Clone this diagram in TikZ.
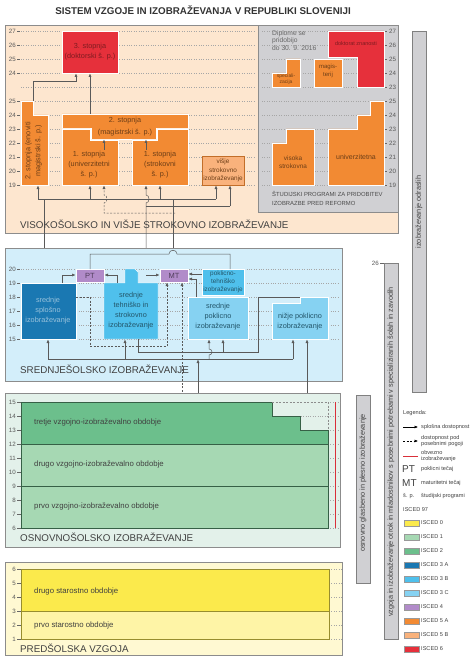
\documentclass[tikz,border=0pt]{standalone}
\usepackage{fontspec}
\setmainfont{Liberation Sans}
\usetikzlibrary{arrows.meta}
\definecolor{bgpeach}{HTML}{FDE6CF}
\definecolor{bggrey}{HTML}{D0D0D3}
\definecolor{bgblue}{HTML}{D3EEFA}
\definecolor{bggreen}{HTML}{E3F1EA}
\definecolor{bgyellow}{HTML}{FFF9D2}
\definecolor{iscedO}{HTML}{FBEA4C}
\definecolor{iscedOl}{HTML}{FEF4A6}
\definecolor{iscedI}{HTML}{A6D8B3}
\definecolor{iscedII}{HTML}{6CBF8C}
\definecolor{iscedIIIa}{HTML}{1A78B2}
\definecolor{iscedIIIb}{HTML}{4FC0EC}
\definecolor{iscedIIIc}{HTML}{86D2F2}
\definecolor{iscedIV}{HTML}{B18BC9}
\definecolor{iscedVa}{HTML}{F28A33}
\definecolor{iscedVb}{HTML}{F9B27C}
\definecolor{iscedVI}{HTML}{E6303B}
\definecolor{redline}{HTML}{D9303A}
\colorlet{txt}{black!75}

\begin{document}
\begin{tikzpicture}[x=1pt,y=-1pt,
	every node/.style={text=txt, inner sep=0pt},
	lbl/.style={font=\fontsize{7.3}{10}\selectfont, align=center},
	small/.style={font=\fontsize{6.4}{8.3}\selectfont, align=center},
	band/.style={font=\fontsize{7.8}{9}\selectfont, anchor=west},
	sec/.style={font=\fontsize{9.8}{11}\selectfont, anchor=west},
	num/.style={font=\fontsize{6.2}{7}\selectfont, anchor=east, text=black!65},
	rnum/.style={font=\fontsize{6.2}{7}\selectfont, anchor=west, text=black!65},
	bar/.style={draw=black!50, fill=bggrey},
	bartxt/.style={font=\fontsize{7.3}{8.5}\selectfont, rotate=90},
	grid/.style={black!35, dotted, line width=0.4pt},
	con/.style={black!65, line width=0.5pt},
	arr/.style={con, -{Latex[length=3.5pt,width=3pt]}},
	dsh/.style={con, dash pattern=on 2pt off 1.5pt},
	leg/.style={font=\fontsize{5.6}{6.4}\selectfont, anchor=west, align=left}]
	\useasboundingbox[fill=white] (0,0) rectangle (474,663);
	
	\node[font=\bfseries\fontsize{9.8}{11}\selectfont, text=black!80] (title) at (203,10) {SISTEM VZGOJE IN IZOBRAŽEVANJA V REPUBLIKI SLOVENIJI};
	
	\draw[black!45, fill=bgpeach] (5,25) rectangle (398,233);
	\draw[black!45, fill=bggrey] (258,25) rectangle (398,212);
	\foreach \y in {31,45,59,73,87,101,115,129,143,157,171,185} {
		\draw[grid] (21,\y) -- (256,\y);
		\draw[grid] (262,\y) -- (384,\y);
	}
	\foreach \y/\n in {31/27,45/26,59/25,73/24,101/25,115/24,129/23,143/22,157/21,171/20,185/19} {
		\draw[black!60] (17,\y) -- (20,\y);
		\node[num] at (16,\y) {\n};
	}
	\foreach \y/\n in {31/27,45/26,59/25,73/24,87/23,101/25,115/24,129/23,143/22,157/21,171/20,185/19} {
		\draw[black!60] (384,\y) -- (387,\y);
		\node[rnum] at (389,\y) {\n};
	}
	
	\draw[white, fill=iscedVI] (62,31) rectangle (118,73);
	\node[lbl, text=black!45!iscedVI] (doktorski) at (90,52) {3. stopnja\\(doktorski š. p.)};
	\draw[white, fill=iscedVa] (21,101) -- (33,101) -- (33,115) -- (48,115) -- (48,185) -- (21,185) -- cycle;
	\node[lbl, rotate=90, text=black!55!iscedVa] (enoviti) at (33.5,151) {2. stopnja (enoviti\\magistrski š. p.)};
	\draw[white, fill=iscedVa] (62,114) -- (188,114) -- (188,128) -- (156,128) -- (156,139) -- (91,139) -- (91,128) -- (62,128) -- cycle;
	\node[lbl, text=black!55!iscedVa] (magA) at (125,121) {2. stopnja};
	\node[lbl, text=black!55!iscedVa] (magB) at (125,133) {(magistrski š. p.)};
	\draw[white, fill=iscedVa] (62,129) -- (90,129) -- (90,140) -- (118,140) -- (118,185) -- (62,185) -- cycle;
	\node[lbl, text=black!55!iscedVa] (univ) at (89,165) {1. stopnja\\(univerzitetni\\š. p.)};
	\draw[white, fill=iscedVa] (132,140) -- (157,140) -- (157,129) -- (188,129) -- (188,185) -- (132,185) -- cycle;
	\node[lbl, text=black!55!iscedVa] (strok) at (160,165) {1. stopnja\\(strokovni\\š. p.)};
	\draw[iscedVa!80!black, fill=iscedVb] (202,156) rectangle (244,185);
	\node[small, text=black!55!iscedVa] (visje) at (223,170.5) {višje\\strokovno\\izobraževanje};
	
	\draw[arr] (104,150) -- (104,139.5);
	\draw[arr] (146,150) -- (146,139.5);
	\draw[arr] (33,101) -- (33,81) -- (76,81) -- (76,73.5);
	\draw[arr] (90,114) -- (90,73.5);
	
	\node[leg, anchor=north west, font=\fontsize{6.7}{7.8}\selectfont, text=black!60] (diplome) at (272,30) {Diplome se\\pridobijo\\do 30. 9. 2016};
	\draw[white, fill=iscedVI] (328,31) -- (384,31) -- (384,87) -- (357,87) -- (357,57) -- (328,57) -- cycle;
	\node[font=\fontsize{5.5}{6.5}\selectfont, text=black!45!iscedVI] (doktorat) at (356,44) {doktorat znanosti};
	\draw[white, fill=iscedVa] (272,73) -- (286,73) -- (286,59) -- (300,59) -- (300,87) -- (272,87) -- cycle;
	\node[font=\fontsize{5}{6}\selectfont, align=center, text=black!55!iscedVa] (spec) at (286,79) {speciali-\\zacija};
	\draw[white, fill=iscedVa] (314,59) rectangle (342,87);
	\node[font=\fontsize{6}{7.5}\selectfont, align=center, text=black!55!iscedVa] (magist) at (328,71) {magis-\\terij};
	\draw[white, fill=iscedVa] (272,143) -- (286,143) -- (286,129) -- (314,129) -- (314,185) -- (272,185) -- cycle;
	\node[small, text=black!55!iscedVa] (visoka) at (293,162) {visoka\\strokovna};
	\draw[white, fill=iscedVa] (328,129) -- (357,129) -- (357,115) -- (370,115) -- (370,101) -- (384,101) -- (384,185) -- (328,185) -- cycle;
	\node[font=\fontsize{7}{8}\selectfont, text=black!55!iscedVa] (univstari) at (356,157) {univerzitetna};
	\node[anchor=north west, font=\fontsize{5.9}{9.5}\selectfont, align=left, text=black!70] (stari) at (272,191) {ŠTUDIJSKI PROGRAMI ZA PRIDOBITEV\\IZOBRAZBE PRED REFORMO};
	
	\draw[con] (38,199) -- (216,199);
	\foreach \x in {38,90,160,216} \draw[arr] (\x,199) -- (\x,185.5);
	\draw[con] (44,283) -- (44,199);
	\draw[con] (173,269) -- (173,199);
	\draw[arr] (146,283) -- (146,203) .. controls (150,203) and (150,195) .. (146,195) -- (146,185.5);
	\draw[con] (146,206) -- (230,206);
	\draw[arr] (230,206) -- (230,185.5);
	\draw[dsh, -{Latex[length=3.5pt,width=3pt]}] (175,213) -- (104,213) -- (104,203) .. controls (108,203) and (108,195) .. (104,195) -- (104,185.5);
	\node[sec] (visoko) at (20,224) {VISOKOŠOLSKO IN VIŠJE STROKOVNO IZOBRAŽEVANJE};
	
	\draw[black!45, fill=bgblue] (5,248) rectangle (342,381);
	\foreach \y/\n in {269/20,283/19,297/18,311/17,325/16,339/15} {
		\draw[grid] (21,\y) -- (340,\y);
		\draw[black!60] (17,\y) -- (20,\y);
		\node[num] at (16,\y) {\n};
	}
	\draw[white, fill=iscedIIIa] (21,283) rectangle (76,339);
	\node[lbl, text=white!55!iscedIIIa] (splosno) at (48,311) {srednje\\splošno\\izobraževanje};
	\draw[white, fill=iscedIV] (76,269) rectangle (104,282);
	\node[font=\fontsize{7.5}{8}\selectfont, text=black!55!iscedIV] (pt) at (90,275.5) {PT};
	\draw[white, fill=iscedIIIb] (104,283) -- (125,283) -- (125,269) -- (135,269) -- (138,272) -- (138,283) -- (158,283) -- (158,339) -- (104,339) -- cycle;
	\node[lbl, text=black!55!iscedIIIb] (tehnisko) at (131,310.5) {srednje\\tehniško in\\strokovno\\izobraževanje};
	\draw[white, fill=iscedIV] (160,269) rectangle (188,282);
	\node[font=\fontsize{7.5}{8}\selectfont, text=black!55!iscedIV] (mt) at (174,275.5) {MT};
	\draw[white, fill=iscedIIIb] (202,269) rectangle (244,295);
	\node[small, text=black!55!iscedIIIb] (poktehn) at (223,282) {poklicno-\\tehniško\\izobraževanje};
	\draw[white, fill=iscedIIIc] (188,297) rectangle (248,339);
	\node[lbl, text=black!55!iscedIIIb] (poklicno) at (218,317) {srednje\\poklicno\\izobraževanje};
	\draw[white, fill=iscedIIIc] (272,303) -- (300,303) -- (300,297) -- (328,297) -- (328,339) -- (272,339) -- cycle;
	\node[lbl, text=black!55!iscedIIIb] (nizje) at (300,322) {nižje poklicno\\izobraževanje};
	
	\draw[arr] (62,283) -- (62,275) -- (75.5,275);
	\draw[arr] (117,283) -- (117,275) -- (104.5,275);
	\draw[arr] (146,275) -- (159.5,275);
	\draw[con] (90,269) -- (90,254) -- (169,254) .. controls (169,249) and (177,249) .. (177,254) -- (230,254) -- (230,269);
	\draw[arr] (202,274) -- (188.5,274);
	\draw[arr] (196,297) -- (196,279) -- (188.5,279);
	\draw[dsh, -{Latex[length=3.5pt,width=3pt]}] (76,297) -- (90,297) -- (90,346) -- (167,346) -- (167,282.5);
	\draw[dsh, -{Latex[length=3.5pt,width=3pt]}] (182,402) -- (182,282.5);
	\draw[con] (48,359) -- (293,359);
	\foreach \x in {48,125,293} \draw[arr] (\x,359) -- (\x,339.5);
	\draw[arr] (198,402) -- (198,359.5);
	\draw[con] (138,339) -- (138,352) -- (258,352) -- (258,297) -- (300,297);
	\draw[arr] (223,352) -- (223,339.5);
	\draw[arr] (209,359) -- (209,355) .. controls (213,355) and (213,349) .. (209,349) -- (209,339.5);
	\draw[arr] (307,402) -- (307,339.5);
	\node[sec] (srednje) at (20,369) {SREDNJEŠOLSKO IZOBRAŽEVANJE};
	
	\draw[black!45, fill=bggreen] (5,393) rectangle (340,547);
	\foreach \y/\n in {402/15,416/14,430/13,444/12,458/11,472/10,486/9,500/8,514/7,528/6} {
		\draw[grid] (328,\y) -- (340,\y);
		\draw[black!60] (17,\y) -- (21,\y);
		\node[num] at (16,\y) {\n};
	}
	\draw[grid] (272,416) -- (328,416);
	\draw[black!50!iscedII, fill=iscedII] (21,402) -- (272,402) -- (272,416) -- (300,416) -- (300,430) -- (328,430) -- (328,444) -- (21,444) -- cycle;
	\draw[black!50!iscedII, fill=iscedI] (21,444) rectangle (328,486);
	\draw[black!50!iscedII, fill=iscedI] (21,486) rectangle (328,528);
	\draw[dsh, black!45] (272,402) -- (328,402) -- (328,430);
	\draw[redline, line width=0.8pt] (335,402) -- (335,528);
	\node[band] (tretje) at (34,422) {tretje vzgojno-izobraževalno obdobje};
	\node[band] (drugo) at (34,464) {drugo vzgojno-izobraževalno obdobje};
	\node[band] (prvo) at (34,506) {prvo vzgojno-izobraževalno obdobje};
	\node[sec] (osnovno) at (20,537) {OSNOVNOŠOLSKO IZOBRAŽEVANJE};
	
	\draw[black!45, fill=bgyellow] (5,562) rectangle (342,655);
	\foreach \y/\n in {569/6,583/5,597/4,611/3,625/2,639/1} {
		\draw[grid] (329,\y) -- (342,\y);
		\draw[black!60] (17,\y) -- (21,\y);
		\node[num] at (16,\y) {\n};
	}
	\draw[black!40!iscedO, fill=iscedO] (21,569) rectangle (329,611);
	\draw[black!40!iscedO, fill=iscedOl] (21,611) rectangle (329,639);
	\node[band] (drugost) at (34,591) {drugo starostno obdobje};
	\node[band] (prvost) at (34,625) {prvo starostno obdobje};
	\node[sec] (predsolska) at (20,648) {PREDŠOLSKA VZGOJA};
	
	\draw[bar] (412,31) rectangle (426,392);
	\node[bartxt] (odrasli) at (419,212) {izobraževanje odraslih};
	\draw[bar] (384,263) rectangle (398,639);
	\draw[black!60] (380,263) -- (384,263);
	\node[num] at (379,263) {26};
	\node[bartxt] (posebne) at (391,452) {vzgoja in izobraževanje otrok in mladostnikov s posebnimi potrebami v specializiranih šolah in zavodih};
	\draw[bar] (356,395) rectangle (370,583);
	\node[bartxt] (glasba) at (363,483) {osnovno glasbeno in plesno izobraževanje};
	
	\node[leg] (legenda) at (403,413) {Legenda:};
	\draw[arr, black] (403,427) -- (418,427);
	\node[leg] at (421,427) {splošna dostopnost};
	\draw[dsh, black, -{Latex[length=3.5pt,width=3pt]}] (403,441) -- (418,441);
	\node[leg] at (421,441) {dostopnost pod\\posebnimi pogoji};
	\draw[redline, line width=0.8pt] (403,456) -- (418,456);
	\node[leg] at (421,456) {obvezno\\izobraževanje};
	\node[leg, font=\fontsize{10}{11}\selectfont] at (402,469) {PT};
	\node[leg] at (421,469) {poklicni tečaj};
	\node[leg, font=\fontsize{10}{11}\selectfont] at (402,483) {MT};
	\node[leg] at (421,483) {maturitetni tečaj};
	\node[leg] at (403,496) {š. p.};
	\node[leg] at (421,496) {študijski programi};
	\node[leg] at (403,510) {ISCED 97};
	\foreach \c/\t [count=\i from 0] in {iscedO/ISCED 0,iscedI/ISCED 1,iscedII/ISCED 2,iscedIIIa/ISCED 3 A,iscedIIIb/ISCED 3 B,iscedIIIc/ISCED 3 C,iscedIV/ISCED 4,iscedVa/ISCED 5 A,iscedVb/ISCED 5 B,iscedVI/ISCED 6} {
		\draw[black!40, fill=\c] (404,{520+14*\i}) rectangle (419,{526+14*\i});
		\node[leg] at (421,{523+14*\i}) {\t};
	}
\end{tikzpicture}
\end{document}
